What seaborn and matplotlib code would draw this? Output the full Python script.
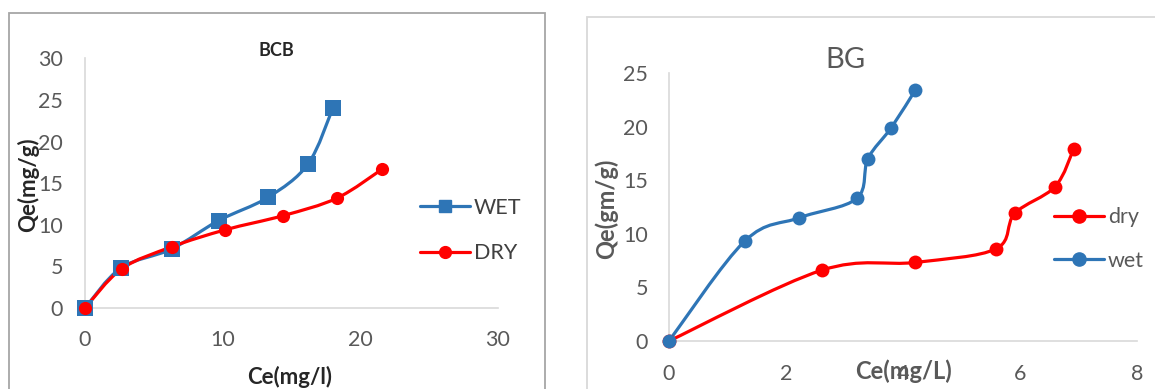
import numpy as np
import pandas as pd
import seaborn as sns
import matplotlib.pyplot as plt
from matplotlib.path import Path
from matplotlib.patches import PathPatch, Rectangle
from matplotlib.lines import Line2D

# BCB panel
bcb_wet_x = [0, 2.6, 6.3, 9.7, 13.3, 16.2, 18.0]
bcb_wet_y = [0, 4.8, 7.1, 10.5, 13.3, 17.3, 24.0]
bcb_dry_x = [0, 2.66, 6.3, 10.2, 14.4, 18.3, 21.6]
bcb_dry_y = [0, 4.7, 7.35, 9.4, 11.1, 13.2, 16.7]

# BG panel
bg_wet_x = [0, 1.30, 2.23, 3.21, 3.40, 3.80, 4.21]
bg_wet_y = [0, 9.35, 11.5, 13.3, 17.0, 19.9, 23.4]
bg_dry_x = [0, 2.61, 4.21, 5.59, 5.91, 6.60, 6.92]
bg_dry_y = [0, 6.6, 7.33, 8.6, 11.9, 14.4, 17.95]

BLUE = "#2E75B6"
RED = "#FF0000"
GRAY = "#595959"
AXIS = "#D9D9D9"
W, H = 1155, 389

sns.set_theme(style="white")
plt.rcParams["font.family"] = ["Lato", "DejaVu Sans"]


def smooth_line(ax, xs, ys, color):
    # excel-style smoothed line: catmull-rom segments as bezier curves
    pts = np.column_stack([xs, ys]).astype(float)
    ext = np.vstack([pts[0], pts, pts[-1]])
    verts = [pts[0]]
    codes = [Path.MOVETO]
    for i in range(1, len(ext) - 2):
        p0, p1, p2, p3 = ext[i - 1], ext[i], ext[i + 1], ext[i + 2]
        verts += [p1 + (p2 - p0) / 6, p2 - (p3 - p1) / 6, p2]
        codes += [Path.CURVE4] * 3
    ax.add_patch(PathPatch(Path(verts, codes), fill=False, edgecolor=color,
                           lw=2.3, clip_on=False, zorder=3))


def draw(ax, xs, ys, color, marker, size):
    smooth_line(ax, xs, ys, color)
    df = pd.DataFrame({"x": xs, "y": ys})
    sns.scatterplot(data=df, x="x", y="y", ax=ax, color=color, marker=marker,
                    s=size, edgecolor=color, linewidth=0, zorder=4,
                    clip_on=False, legend=False)


def style_axes(ax, xmax, xstep, ymax, ystep, xpad, ypad):
    ax.set_xlim(0, xmax)
    ax.set_ylim(0, ymax)
    ax.set_xticks(np.arange(0, xmax + 0.1, xstep))
    ax.set_yticks(np.arange(0, ymax + 0.1, ystep))
    for s in ["top", "right"]:
        ax.spines[s].set_visible(False)
    for s in ["left", "bottom"]:
        ax.spines[s].set_color(AXIS)
        ax.spines[s].set_linewidth(1.2)
    ax.tick_params(colors=GRAY, labelsize=15.5, length=0)
    ax.tick_params(axis="x", pad=xpad)
    ax.tick_params(axis="y", pad=ypad)
    ax.set_xlabel("")
    ax.set_ylabel("")
    ax.set_facecolor("none")


def px(x, y):
    return x / W, 1 - y / H


fig = plt.figure(figsize=(W / 100, H / 100), dpi=100)

# panel frames
fig.patches.append(Rectangle((9 / W, -0.1), 536 / W, 1.1 - 13.3 / H,
                             transform=fig.transFigure, fill=False,
                             edgecolor="#A6A6A6", lw=1.3))
fig.patches.append(Rectangle((586.7 / W, -0.1), 0.6, 1.1 - 16.7 / H,
                             transform=fig.transFigure, fill=False,
                             edgecolor="#D9D9D9", lw=1.3))

ax1 = fig.add_axes([85 / W, 1 - 308 / H, 413 / W, 249.7 / H])
draw(ax1, bcb_wet_x, bcb_wet_y, BLUE, "s", 117)
draw(ax1, bcb_dry_x, bcb_dry_y, RED, "o", 90)
style_axes(ax1, 30, 10, 30, 5, 16, 15.8)
fig.text(*px(276, 50), "BCB", ha="center", va="center",
         fontsize=13, fontweight="bold", color="#262626")
fig.text(*px(28, 185), "Qe(mg/g)", rotation=90, ha="center",
         va="center", fontsize=16, fontweight="bold", color="#262626")
fig.text(*px(290, 377), "Ce(mg/l)", ha="center", va="center",
         fontsize=16, fontweight="bold", color="#262626")
h1 = [Line2D([], [], color=BLUE, lw=2.3, marker="s", ms=8.5),
      Line2D([], [], color=RED, lw=2.3, marker="o", ms=8.5)]
fig.legend(h1, ["WET", "DRY"], loc="center left",
           bbox_to_anchor=px(420, 230.5), frameon=False, fontsize=15.5,
           labelcolor="#404040", handlelength=2.3, handletextpad=0.2,
           labelspacing=1.18, borderaxespad=0, borderpad=0)

ax2 = fig.add_axes([669 / W, 1 - 341 / H, 468 / W, 268 / H])
draw(ax2, bg_dry_x, bg_dry_y, RED, "o", 100)
draw(ax2, bg_wet_x, bg_wet_y, BLUE, "o", 100)
style_axes(ax2, 8, 2, 25, 5, 16.5, 15)
fig.text(*px(845, 60), "BG", ha="center", va="center",
         fontsize=21, color=GRAY)
fig.text(*px(606, 209), "Qe(gm/g)", rotation=90, ha="center",
         va="center", fontsize=17, fontweight="bold", color=GRAY)
fig.text(*px(903, 371), "Ce(mg/L)", ha="center", va="center",
         fontsize=17, fontweight="bold", color=GRAY)
h2 = [Line2D([], [], color=RED, lw=2.3, marker="o", ms=9.5),
      Line2D([], [], color=BLUE, lw=2.3, marker="o", ms=9.5)]
fig.legend(h2, ["dry", "wet"], loc="center left",
           bbox_to_anchor=px(1054, 239), frameon=False, fontsize=15.5,
           labelcolor=GRAY, handlelength=2.3, handletextpad=0.2,
           labelspacing=1.1, borderaxespad=0, borderpad=0)

fig.savefig("out.png", dpi=100)
